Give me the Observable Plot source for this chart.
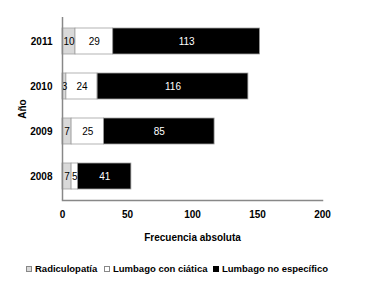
<!DOCTYPE html>
<html><head><meta charset="utf-8">
<script src="https://cdn.jsdelivr.net/npm/d3@7"></script>
<script src="https://cdn.jsdelivr.net/npm/@observablehq/plot@0.6"></script>
<style>
body{margin:0;background:#fff;font-family:"Liberation Sans",Arial,sans-serif;}
#wrap{position:relative;width:369px;height:287px;}
#legend{position:absolute;left:0;top:263px;width:369px;font-size:9.5px;font-weight:bold;color:#000;}
.item{position:absolute;display:flex;align-items:center;white-space:nowrap;}
.sw{width:6px;height:6px;margin-right:3px;box-sizing:border-box;border:1px solid #888;}
</style>
</head><body>
<div id="wrap"><div id="chart"></div><div id="legend"></div></div>
<script>
const years = ["2011","2010","2009","2008"];
const series = ["Radiculopatía","Lumbago con ciática","Lumbago no específico"];
const radiculopatia = [10,3,7,7];
const ciatica = [29,24,25,5];
const noEspecifico = [113,116,85,41];
const xTicks = [0,50,100,150,200];
const colors = ["#d9d9d9","#ffffff","#000000"];
const textColors = ["#000000","#000000","#ffffff"];

const data = [];
years.forEach((y,i)=>{
  [radiculopatia,ciatica,noEspecifico].forEach((arr,j)=>{
    data.push({year:y, series:series[j], value:arr[i], tc:textColors[j]});
  });
});

const chart = Plot.plot({
  width:369, height:250,
  marginLeft:62, marginRight:47, marginTop:17, marginBottom:50,
  style:{fontFamily:"Liberation Sans, Arial, sans-serif", fontSize:"10px", background:"white"},
  x:{domain:[0,200], ticks:xTicks, tickSize:0, tickPadding:10, label:"Frecuencia absoluta", labelArrow:"none", labelAnchor:"center", labelOffset:40},
  y:{domain:years, paddingInner:0.42, paddingOuter:0.21, tickSize:0, tickPadding:10, label:"Año", labelArrow:"none", labelAnchor:"center", labelOffset:44},
  color:{domain:series, range:colors},
  marks:[
    Plot.barX(data, Plot.stackX({x:"value", y:"year", fill:"series", z:"series", order:series, stroke:"#a0a0a0", strokeWidth:0.8})),
    Plot.text(data, Plot.stackX({x:"value", y:"year", z:"series", order:series, text:d=>String(d.value), fill:"tc", fontSize:10})),
    Plot.ruleX([0], {stroke:"#888", strokeWidth:1.5}),
    Plot.frame({anchor:"bottom", stroke:"#888", strokeWidth:1.5})
  ]
});
d3.select(chart).selectAll("[aria-label='y-axis tick label'], [aria-label='x-axis tick label'], [aria-label='x-axis label'], [aria-label='y-axis label']").style("font-weight","bold");
d3.select(chart).selectAll("[aria-label='x-axis label'] text, [aria-label='y-axis label'] text").each(function(){
  this.textContent = this.textContent.replace(/[\s→↑]+$/,"").replace(/^[↑→\s]+/,"");
});
document.getElementById("chart").appendChild(chart);

const leg = document.getElementById("legend");
const lefts = [26,104,213];
series.forEach((s,i)=>{
  const it = document.createElement("div");
  it.className="item"; it.style.left=lefts[i]+"px";
  const sw = document.createElement("span"); sw.className="sw"; sw.style.background=colors[i];
  if(i===2) sw.style.borderColor="#000";
  const t = document.createElement("span"); t.textContent=s;
  it.appendChild(sw); it.appendChild(t); leg.appendChild(it);
});
</script>
</body></html>
